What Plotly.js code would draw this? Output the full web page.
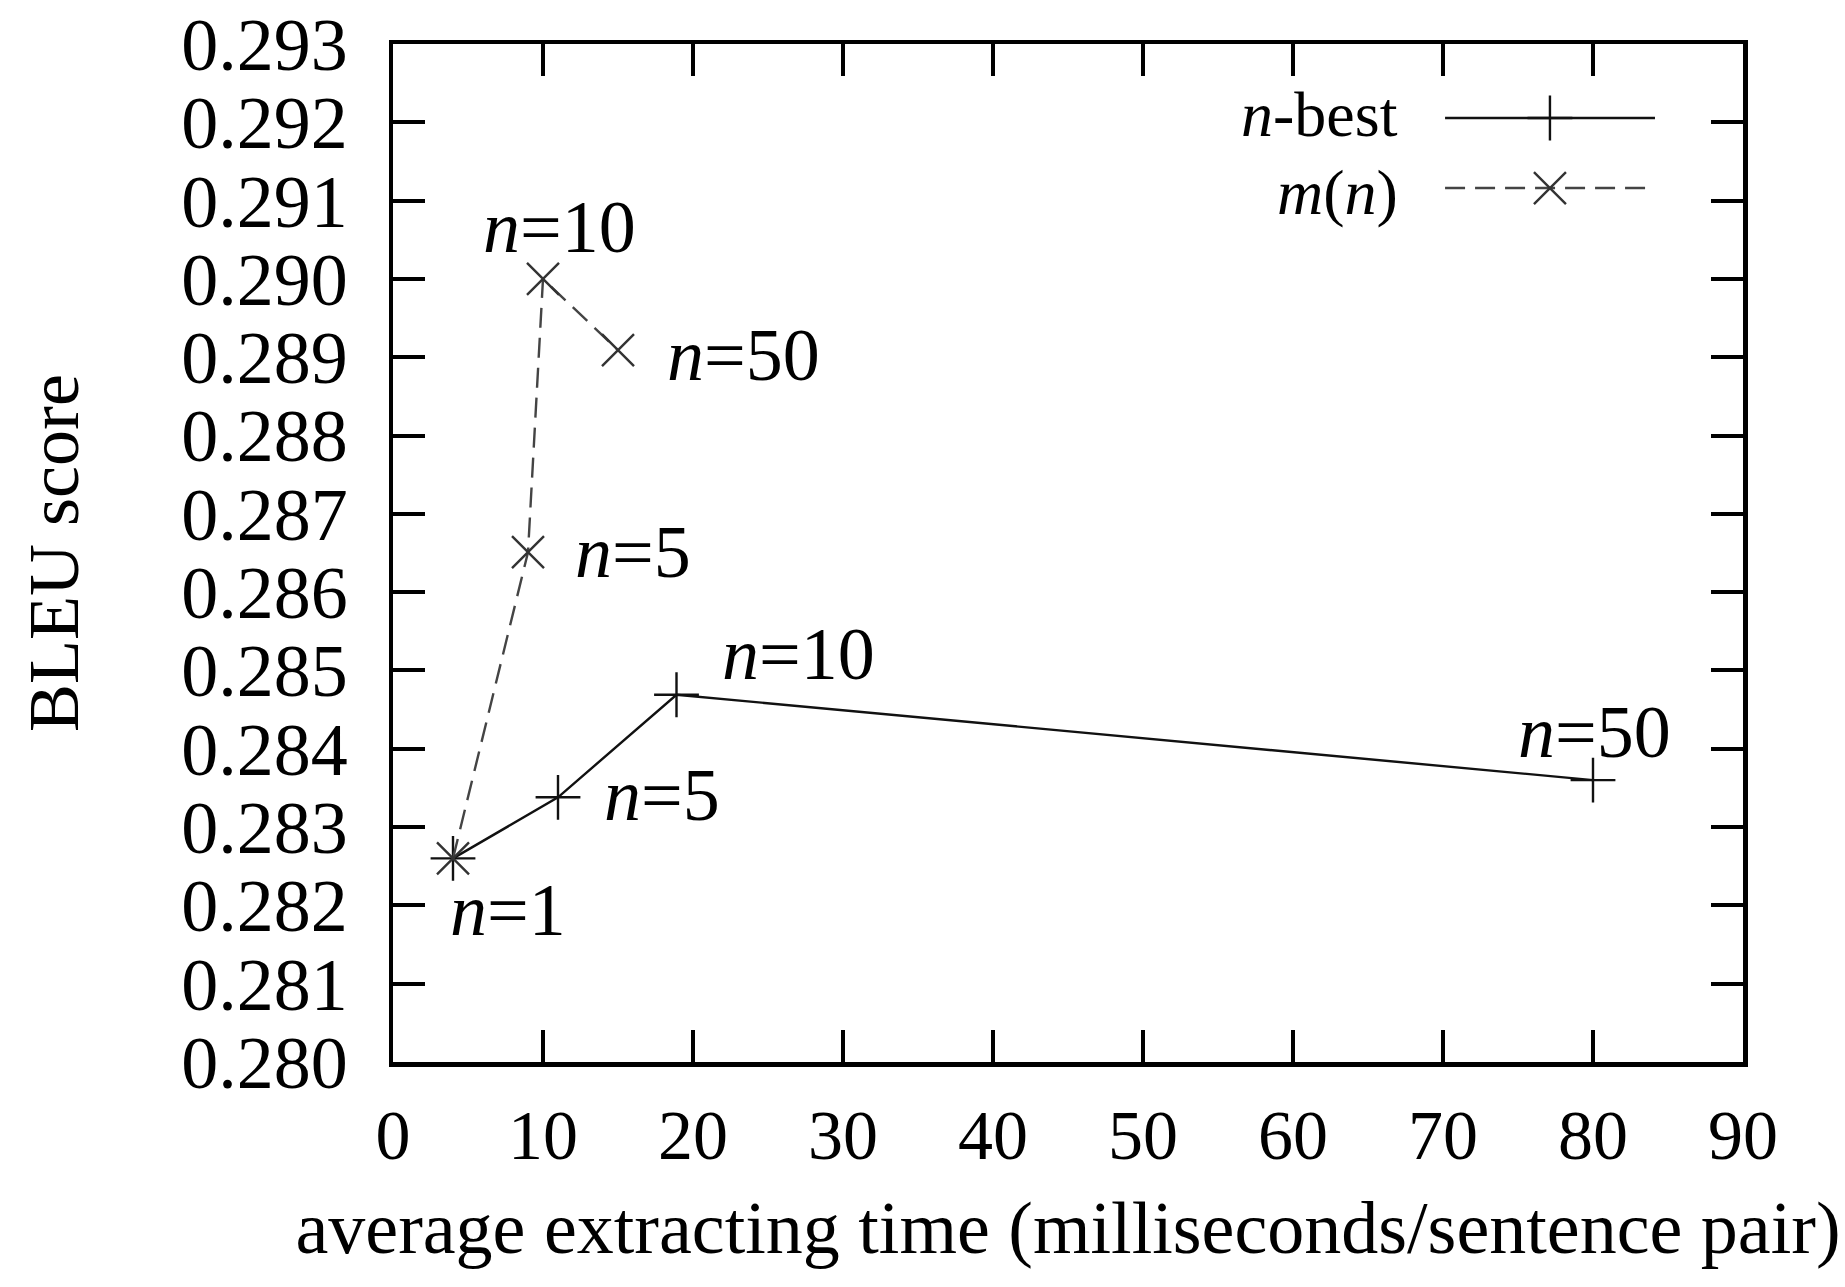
<!DOCTYPE html>
<html>
<head>
<meta charset="utf-8">
<script src="https://cdn.plot.ly/plotly-3.0.1.min.js"></script>
<style>html,body{margin:0;padding:0;background:#fff;}#chart{width:1845px;height:1287px;}</style>
</head>
<body>
<div id="chart"></div>
<script>
// ---- data ----
var nbestX = [4, 11, 18.9, 80];
var nbestY = [0.2826, 0.28338, 0.28469, 0.2836];
var nbestLabels = ['1', '5', '10', '50'];
var mnX = [4, 9, 10, 15];
var mnY = [0.2826, 0.28651, 0.2900, 0.28909];
var mnLabels = ['', '5', '10', '50'];
var xTicks = [0, 10, 20, 30, 40, 50, 60, 70, 80, 90];
var yTicks = [0.280, 0.281, 0.282, 0.283, 0.284, 0.285, 0.286, 0.287, 0.288, 0.289, 0.290, 0.291, 0.292, 0.293];
var seriesNames = ['<i>n</i>-best', '<i>m</i>(<i>n</i>)'];

// ---- styles ----
var FONT = 'Liberation Serif, Times New Roman, serif';
var markerSize = 32;
var nbestColor = '#111', mnColor = '#333';
var nbestStyle = {color: nbestColor, width: 2.4};
var mnStyle = {color: '#444', width: 2.4, dash: '20px,10px'};
// label offsets in pixels [xshift, yshift, xanchor]
var nbestOff = [[55, -52, 'center'], [44, 2, 'left'], [122, 41, 'center'], [1, 48, 'center']];
var mnOff = [null, [45, 0, 'left'], [16, 52, 'center'], [47, -5, 'left']];

function mk(sym, col) {
  return {symbol: sym, size: markerSize, color: col, line: {width: 2.4, color: col}};
}

var traces = [
  {x: nbestX, y: nbestY, mode: 'lines+markers', name: seriesNames[0],
   line: nbestStyle, marker: mk('cross-thin-open', nbestColor), showlegend: false},
  {x: mnX, y: mnY, mode: 'lines+markers', name: seriesNames[1],
   line: mnStyle, marker: mk('x-thin-open', mnColor), showlegend: false}
];

// custom legend (text left of sample, gnuplot style) on an overlay axis
var legY = [0.9273, 0.8585];
var legTextY = [0.9312, 0.8546];
var legX0 = 0.7793, legX1 = 0.9348, legXm = 0.857;
traces.push({x: [legX0, legX1], y: [legY[0], legY[0]], xaxis: 'x2', yaxis: 'y2', mode: 'lines',
  line: nbestStyle, showlegend: false, hoverinfo: 'skip'});
traces.push({x: [legXm], y: [legY[0]], xaxis: 'x2', yaxis: 'y2', mode: 'markers',
  marker: mk('cross-thin-open', nbestColor), showlegend: false, hoverinfo: 'skip'});
traces.push({x: [legX0, legX1], y: [legY[1], legY[1]], xaxis: 'x2', yaxis: 'y2', mode: 'lines',
  line: mnStyle, showlegend: false, hoverinfo: 'skip'});
traces.push({x: [legXm], y: [legY[1]], xaxis: 'x2', yaxis: 'y2', mode: 'markers',
  marker: mk('x-thin-open', mnColor), showlegend: false, hoverinfo: 'skip'});

var annFont = {family: FONT, size: 74, color: '#000'};
var legFont = {family: FONT, size: 64, color: '#000'};
var annotations = [];
nbestX.forEach(function (x, i) {
  var o = nbestOff[i];
  annotations.push({x: x, y: nbestY[i], xref: 'x', yref: 'y', text: '<i>n</i>=' + nbestLabels[i],
    showarrow: false, xshift: o[0], yshift: o[1], xanchor: o[2], yanchor: 'middle', font: annFont});
});
mnX.forEach(function (x, i) {
  var o = mnOff[i];
  if (!o) return;
  annotations.push({x: x, y: mnY[i], xref: 'x', yref: 'y', text: '<i>n</i>=' + mnLabels[i],
    showarrow: false, xshift: o[0], yshift: o[1], xanchor: o[2], yanchor: 'middle', font: annFont});
});
seriesNames.forEach(function (nm, i) {
  annotations.push({x: 0.746, y: legTextY[i], xref: 'paper', yref: 'paper', text: nm, showarrow: false,
    xanchor: 'right', yanchor: 'middle', font: legFont});
});

var axisCommon = {
  showline: true, linecolor: '#000', linewidth: 4.5, mirror: 'ticks',
  ticks: 'inside', ticklen: 32, tickwidth: 4, tickcolor: '#000',
  showgrid: false, zeroline: false
};

var layout = {
  width: 1845, height: 1287,
  margin: {l: 393, r: 102, t: 44, b: 225},
  paper_bgcolor: '#fff', plot_bgcolor: '#fff',
  font: {family: FONT, color: '#000'},
  xaxis: Object.assign({}, axisCommon, {
    range: [0, 90], tickmode: 'array', tickvals: xTicks, ticktext: xTicks.map(String),
    tickfont: {family: FONT, size: 70}, ticklabelstandoff: 8,
    title: {text: 'average extracting time (milliseconds/sentence pair)', font: {family: FONT, size: 74}, standoff: 30}
  }),
  yaxis: Object.assign({}, axisCommon, {
    range: [0.280, 0.293], tickmode: 'array', tickvals: yTicks, ticktext: yTicks.map(function (v) { return v.toFixed(3); }),
    tickfont: {family: FONT, size: 74}, ticklabelstandoff: 26,
    title: {text: 'BLEU score', font: {family: FONT, size: 72}, standoff: 80}
  }),
  xaxis2: {overlaying: 'x', range: [0, 1], visible: false, fixedrange: true},
  yaxis2: {overlaying: 'y', range: [0, 1], visible: false, fixedrange: true},
  showlegend: false,
  annotations: annotations
};

Plotly.newPlot('chart', traces, layout, {displayModeBar: false, staticPlot: true});
</script>
</body>
</html>
